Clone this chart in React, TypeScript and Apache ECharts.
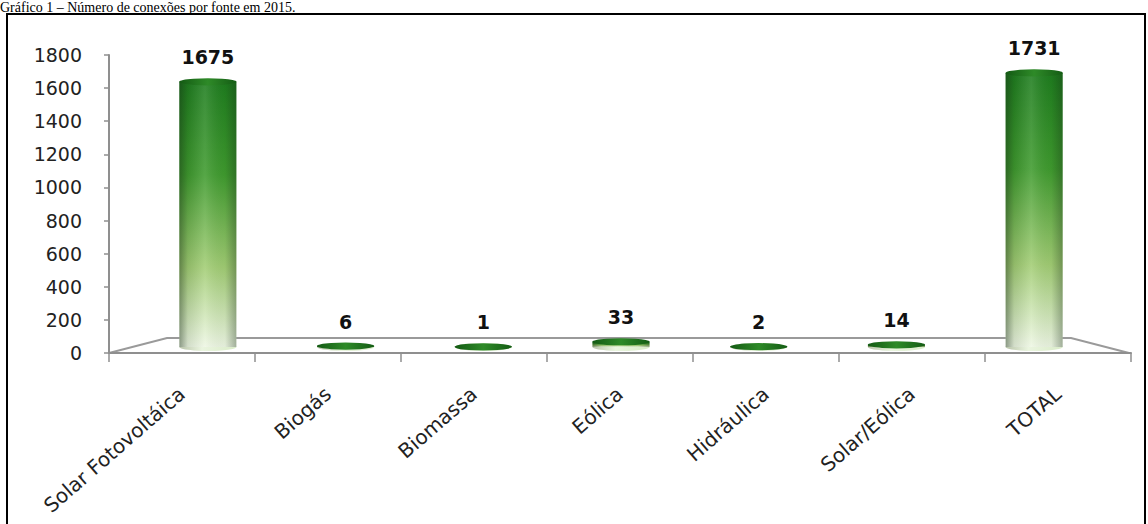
import React, { useEffect, useRef } from "react";
import * as echarts from "echarts";

const categories = ["Solar Fotovoltáica", "Biogás", "Biomassa", "Eólica", "Hidráulica", "Solar/Eólica", "TOTAL"];
const values = [1675, 6, 1, 33, 2, 14, 1731];
const yMin = 0;
const yMax = 1800;
const yInterval = 200;
const titleText = "Gráfico 1 – Número de conexões por fonte em 2015.";

export default function App() {
  const ref = useRef<HTMLDivElement>(null);
  useEffect(() => {
    document.body.style.margin = "0";
    if (!ref.current) return;
    const chart = echarts.init(ref.current, null, { renderer: "svg" });
    const G = echarts.graphic.LinearGradient;
    const bodyGrad = new G(0, 0, 0, 1, [
      { offset: 0, color: "#1e7d1e" },
      { offset: 0.35, color: "#3f9b2e" },
      { offset: 0.7, color: "#a2cd74" },
      { offset: 1, color: "#eef7e4" },
    ]);
    const shadeGrad = new G(0, 0, 1, 0, [
      { offset: 0, color: "rgba(20,40,20,0.45)" },
      { offset: 0.15, color: "rgba(20,40,20,0.12)" },
      { offset: 0.45, color: "rgba(255,255,255,0.12)" },
      { offset: 0.8, color: "rgba(20,40,20,0.05)" },
      { offset: 1, color: "rgba(20,40,20,0.35)" },
    ]);
    const capGrad = new G(0, 0, 1, 0, [
      { offset: 0, color: "#135a13" },
      { offset: 0.5, color: "#2e8a28" },
      { offset: 1, color: "#145c14" },
    ]);
    const bottomGrad = new G(0, 0, 1, 0, [
      { offset: 0, color: "#b9c4aa" },
      { offset: 0.4, color: "#eaf5df" },
      { offset: 1, color: "#d9ebc8" },
    ]);
    const font = "DejaVu Sans";
    chart.setOption({
      animation: false,
      backgroundColor: "#ffffff",
      grid: [
        { left: 109, right: 17, top: 55, bottom: 171 },
        { left: 139, right: 45, top: 62, bottom: 177 },
      ],
      xAxis: [
        {
          type: "category",
          gridIndex: 0,
          data: categories,
          boundaryGap: true,
          axisLine: { lineStyle: { color: "#8f8f8f", width: 2 } },
          axisTick: { show: true, length: 9, lineStyle: { color: "#8f8f8f", width: 1.5 } },
          axisLabel: { rotate: 41, margin: 38, fontFamily: font, fontSize: 20, color: "#222", interval: 0 },
        },
        { type: "category", gridIndex: 1, data: categories, show: false },
      ],
      yAxis: [
        {
          type: "value",
          gridIndex: 0,
          min: yMin,
          max: yMax,
          interval: yInterval,
          splitLine: { show: false },
          axisLine: { show: true, lineStyle: { color: "#8f8f8f", width: 2 } },
          axisTick: { show: true, length: 5, lineStyle: { color: "#8f8f8f", width: 1.5 } },
          axisLabel: {
            margin: 27,
            fontFamily: font,
            fontSize: 19,
            color: "#222",
            formatter: (v: number) => String(v),
          },
        },
        { type: "value", gridIndex: 1, min: yMin, max: yMax, show: false, splitLine: { show: false } },
      ],
      graphic: [
        {
          type: "text",
          x: 0,
          y: 0,
          style: { text: titleText, fontFamily: "Liberation Serif", fontSize: 14, fill: "#000", verticalAlign: "top" },
        },
        {
          type: "rect",
          shape: { x: 7, y: 14, width: 1138, height: 540 },
          style: { fill: "none", stroke: "#000", lineWidth: 2 },
          z: 100,
        },
        {
          type: "polyline",
          shape: { points: [[109, 353], [167, 338], [1071, 338], [1129, 353]] },
          style: { fill: "none", stroke: "#9a9a9a", lineWidth: 2 },
          z: 0,
        },
      ],
      series: [
        { type: "line", xAxisIndex: 0, yAxisIndex: 0, data: [], silent: true },
        {
          type: "pictorialBar",
          xAxisIndex: 1,
          yAxisIndex: 1,
          data: values,
          symbol: "circle",
          symbolSize: [57, 8],
          symbolPosition: "start",
          symbolOffset: [0, "50%"],
          itemStyle: { color: bottomGrad },
          z: 2,
          silent: true,
        },
        {
          type: "bar",
          xAxisIndex: 1,
          yAxisIndex: 1,
          data: values,
          barWidth: 57,
          itemStyle: { color: bodyGrad },
          z: 3,
          label: {
            show: true,
            position: "top",
            distance: 15,
            fontFamily: font,
            fontWeight: "bold",
            fontSize: 19,
            color: "#111",
          },
        },
        {
          type: "bar",
          xAxisIndex: 1,
          yAxisIndex: 1,
          data: values,
          barWidth: 57,
          barGap: "-100%",
          itemStyle: { color: shadeGrad },
          z: 4,
          silent: true,
        },
        {
          type: "pictorialBar",
          xAxisIndex: 1,
          yAxisIndex: 1,
          data: values,
          symbol: "circle",
          symbolSize: [57, 7],
          symbolPosition: "end",
          symbolOffset: [0, "-50%"],
          itemStyle: { color: capGrad },
          z: 5,
          silent: true,
        },
      ],
    });
    return () => chart.dispose();
  }, []);
  return <div ref={ref} style={{ width: 1148, height: 524 }} />;
}
